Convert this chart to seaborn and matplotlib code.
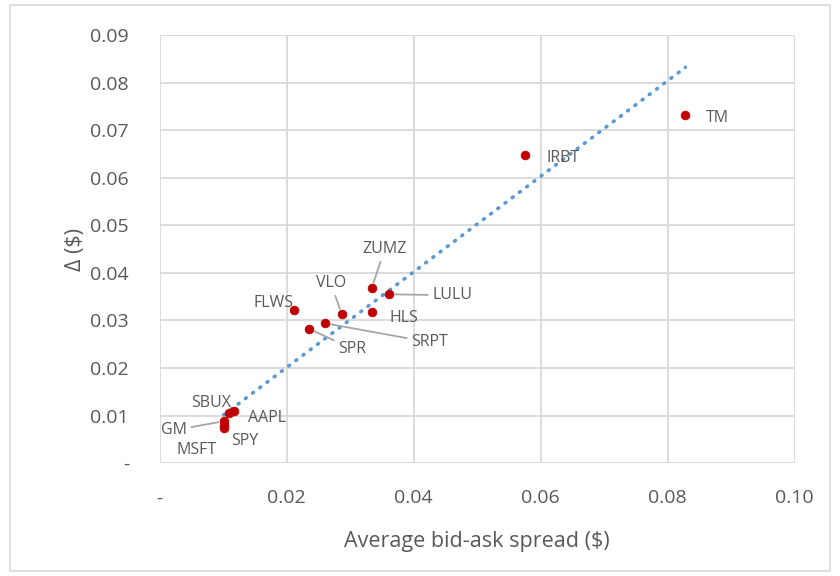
import numpy as np
import pandas as pd
import matplotlib
matplotlib.use("Agg")
import matplotlib.pyplot as plt
from matplotlib.ticker import FuncFormatter, MultipleLocator
from matplotlib.patches import Rectangle
import seaborn as sns

# data
tickers = ["TM", "IRBT", "ZUMZ", "LULU", "HLS", "VLO", "FLWS", "SRPT",
           "SPR", "SBUX", "AAPL", "GM", "SPY", "MSFT"]
spread = [0.0828, 0.0575, 0.0334, 0.0362, 0.0334, 0.0287, 0.0211, 0.0261,
          0.0236, 0.0109, 0.0117, 0.0101, 0.0101, 0.0101]
delta = [0.0732, 0.0648, 0.0368, 0.0355, 0.0317, 0.0313, 0.0322, 0.0294,
         0.0282, 0.0105, 0.0109, 0.0088, 0.0081, 0.0074]

df = pd.DataFrame({"ticker": tickers, "spread": spread, "delta": delta})

# linear trendline with intercept fixed at 0 (Excel style), from min to max x
x = df["spread"].to_numpy()
slope = np.sum(x * df["delta"].to_numpy()) / np.sum(x * x)
trend = pd.DataFrame({"spread": [x.min(), x.max()]})
trend["delta"] = slope * trend["spread"]

# label placement (offset in pixels, alignment, leader line?)
label_style = {
    "TM":   ((20, -3), "left", False),
    "IRBT": ((22, -3), "left", False),
    "ZUMZ": ((13, 39), "center", True),
    "LULU": ((43, -1), "left", True),
    "HLS":  ((18, -6), "left", False),
    "VLO":  ((-11, 31), "center", True),
    "FLWS": ((-20, 7), "center", False),
    "SRPT": ((86, -19), "left", True),
    "SPR":  ((29, -20), "left", True),
    "SBUX": ((-18, 10), "center", False),
    "AAPL": ((14, -7), "left", False),
    "GM":   ((-37, -9), "right", True),
    "SPY":  ((21, -16), "center", False),
    "MSFT": ((-27, -22), "center", False),
}

sns.set_style("white")
plt.rcParams["font.family"] = ["Open Sans", "DejaVu Sans"]
text_grey = "#595959"

fig, ax = plt.subplots(figsize=(8.4, 5.76), dpi=100)
fig.subplots_adjust(left=0.19, right=0.946, top=0.939, bottom=0.196)

# chart border
fig.patches.append(Rectangle((0.012, 0.008), 0.976, 0.984, transform=fig.transFigure,
                             fill=False, edgecolor="#d9d9d9", linewidth=1.2))

sns.lineplot(data=trend, x="spread", y="delta", ax=ax, color="#5b9bd5",
             linestyle=(0, (0.3, 2.2)), linewidth=2.6, dash_capstyle="round")
sns.scatterplot(data=df, x="spread", y="delta", ax=ax, color="#c00000",
                s=40, edgecolor="#c00000", linewidth=0.5, zorder=3)

for _, row in df.iterrows():
    (dx, dy), ha, leader = label_style[row["ticker"]]
    ax.annotate(row["ticker"], (row["spread"], row["delta"]),
                xytext=(dx, dy), textcoords="offset pixels",
                ha=ha, va="center", fontsize=11.5, color=text_grey,
                arrowprops=dict(arrowstyle="-", color="#a6a6a6", lw=1.3,
                                shrinkA=1, shrinkB=4) if leader else None)

ax.set_xlim(0, 0.10)
ax.set_ylim(0, 0.09)
ax.xaxis.set_major_locator(MultipleLocator(0.02))
ax.yaxis.set_major_locator(MultipleLocator(0.01))
fmt = FuncFormatter(lambda v, p: "-" if abs(v) < 1e-9 else f"{v:.2f}")
ax.xaxis.set_major_formatter(fmt)
ax.yaxis.set_major_formatter(fmt)

ax.grid(True, color="#d9d9d9", linewidth=1.3)
ax.set_axisbelow(True)
for s in ax.spines.values():
    s.set_visible(False)
ax.tick_params(axis="both", length=0, labelsize=14, labelcolor=text_grey)
ax.tick_params(axis="y", pad=22)
ax.tick_params(axis="x", pad=19)

ax.set_xlabel("Average bid-ask spread ($)", fontsize=15.5, color=text_grey, labelpad=17)
ax.set_ylabel("Δ ($)", fontsize=15.5, color=text_grey, labelpad=3)

fig.savefig("out.png", dpi=100)
